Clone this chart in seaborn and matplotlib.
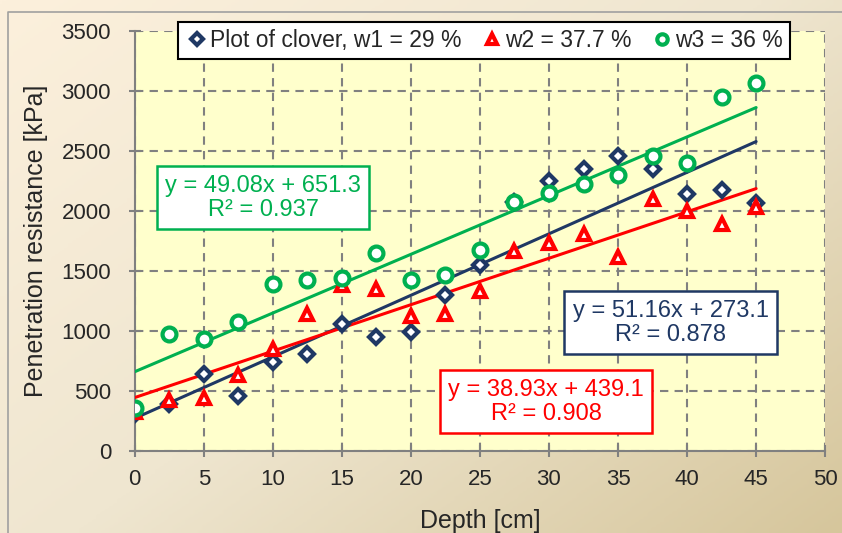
import numpy as np
import pandas as pd
import seaborn as sns
import matplotlib.pyplot as plt
from matplotlib.colors import LinearSegmentedColormap

# depth [cm]
depth = [0, 2.5, 5, 7.5, 10, 12.5, 15, 17.5, 20, 22.5, 25, 27.5, 30, 32.5, 35, 37.5, 40, 42.5, 45]

# penetration resistance [kPa]
w1 = [310, 392, 640, 460, 745, 810, 1060, 950, 990, 1300, 1550, 2075, 2250, 2350, 2455, 2350, 2140, 2175, 2070]
w2 = [325, 425, 445, 630, 850, 1140, 1385, 1350, 1125, 1140, 1335, 1665, 1735, 1805, 1615, 2100, 2000, 1890, 2030]
w3 = [358, 975, 935, 1075, 1395, 1425, 1445, 1650, 1425, 1465, 1675, 2075, 2150, 2225, 2300, 2460, 2400, 2950, 3070]

labels = ["Plot of clover, w1 = 29 %", "w2 = 37.7 %", "w3 = 36 %"]
equations = ["y = 51.16x + 273.1\nR² = 0.878",
             "y = 38.93x + 439.1\nR² = 0.908",
             "y = 49.08x + 651.3\nR² = 0.937"]
colors = ["#1f3864", "#ff0000", "#00b050"]
markers = ["D", "^", "o"]
sizes = [7.5, 9, 10]

sns.set_style("white")
plt.rcParams['font.family'] = ['Liberation Sans', 'DejaVu Sans']

fig = plt.figure(figsize=(8.42, 5.33), dpi=100)

# beige gradient background with a grey frame
bg = fig.add_axes([0, 0, 1, 1], zorder=-10)
gx, gy = np.meshgrid(np.linspace(0, 1, 200), np.linspace(0, 1, 200))
grad = 0.55 * gx + 0.45 * gy
cmap = LinearSegmentedColormap.from_list("bg", ["#fcf0dc", "#efe6d0", "#d6c69c"])
bg.imshow(grad, cmap=cmap, extent=[0, 1, 0, 1], aspect='auto', origin='upper')
bg.plot([0.009, 0.009, 1.1], [-0.1, 0.978, 0.978], color="#a0a0a0", lw=1.2)
bg.set_xlim(0, 1)
bg.set_ylim(0, 1)
bg.axis('off')

ax = fig.add_axes([0.160, 0.154, 0.820, 0.788])
ax.set_facecolor("#ffffcc")

df = pd.DataFrame({"depth": depth, "w1": w1, "w2": w2, "w3": w3})
series = ["w1", "w2", "w3"]

handles = []
for col, lab, c, m, s in zip(series, labels, colors, markers, sizes):
    sns.regplot(data=df, x="depth", y=col, ax=ax, ci=None, scatter=False,
                line_kws=dict(color=c, lw=2.2, zorder=3))
    h, = ax.plot(df["depth"], df[col], linestyle="none", marker=m, ms=s,
                 mfc="white", mec=c, mew=3, zorder=4, label=lab)
    handles.append(h)

ax.set_xlim(0, 50)
ax.set_ylim(0, 3500)
ax.set_xticks(np.arange(0, 51, 5))
ax.set_yticks(np.arange(0, 3501, 500))
ax.grid(True, color="#808080", linestyle=(0, (4, 3)), lw=1.5)
for side in ["top", "right"]:
    ax.spines[side].set_visible(False)
for side in ["left", "bottom"]:
    ax.spines[side].set_color("#808080")
    ax.spines[side].set_linewidth(1.5)
ax.tick_params(axis="both", which="both", direction="inout", length=8, width=1.5,
               color="#808080", labelsize=16, left=True, bottom=True)
ax.tick_params(axis="x", pad=9)
ax.tick_params(axis="y", pad=13)
ax.set_xlabel("Depth [cm]", fontsize=18, labelpad=14)
ax.set_ylabel("Penetration resistance [kPa]", fontsize=18, labelpad=10)

leg = ax.legend(handles=handles, loc="center", bbox_to_anchor=(0.506, 0.977), ncol=3,
                fontsize=16.5, frameon=True, fancybox=False, handletextpad=0.1,
                columnspacing=0.8, handlelength=1.0, borderpad=0.3, markerscale=0.75)
leg.get_frame().set_edgecolor("black")
leg.get_frame().set_linewidth(1.5)
leg.get_frame().set_alpha(1)
leg.set_zorder(10)

eq_pos = [(38.8, 1067), (29.8, 408), (9.3, 2108)]
for (x, y), txt, c in zip(eq_pos, equations, colors):
    ax.text(x, y, txt, color=c, fontsize=17, ha="center", va="center", zorder=6,
            linespacing=1.15,
            bbox=dict(boxstyle="square,pad=0.35", fc="white", ec=c, lw=1.8))

fig.savefig("out.png", dpi=100)
